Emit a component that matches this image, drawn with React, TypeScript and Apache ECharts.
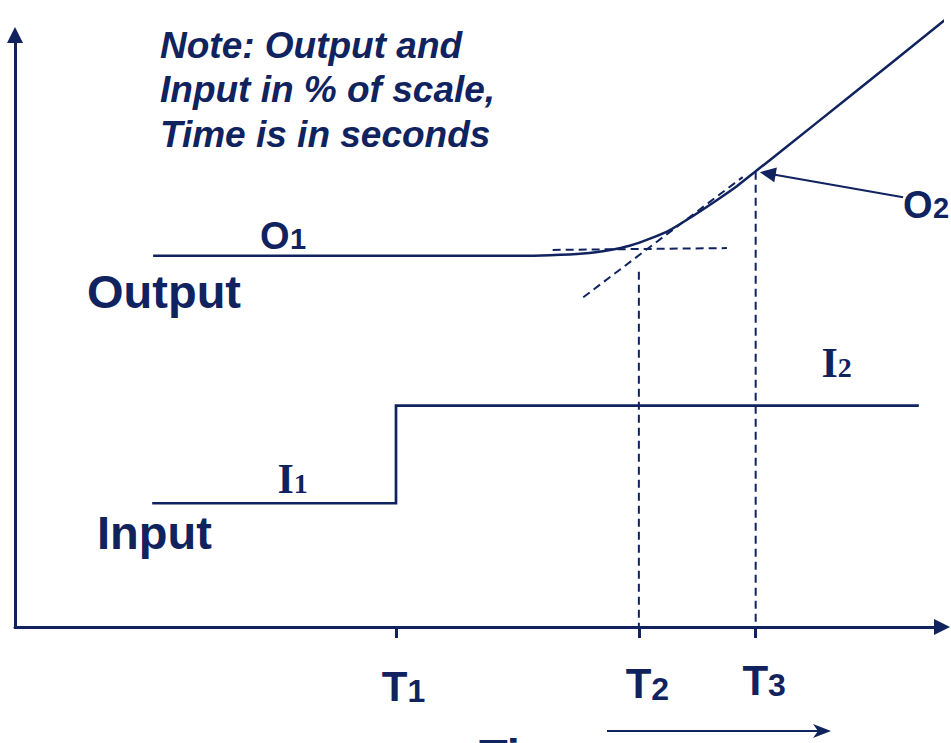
import React, { useEffect, useRef } from 'react';
import * as echarts from 'echarts';

const NAVY = '#10235f';
const SANS = '"Liberation Sans", Arial, sans-serif';
const SERIF = '"Liberation Serif", "Times New Roman", serif';

// ---- data (time axis 0..100, % of scale 0..100) ----
const timeTicks = [41.1, 67.3, 79.9]; // T1, T2, T3
const tickSubs = ['1', '2', '3'];

const inputLevels = [20.9, 37.4]; // I1, I2
const inputSpan = [14.8, 97.5]; // start / end of the input trace

const outputX = [14.9, 54.2, 57.7, 61.3, 64.2, 66.3, 68.5, 70.7, 72.8, 75.7, 77.9, 80.0, 82.5, 90.1, 101.0];
const outputY = [62.7, 62.7, 62.8, 63.1, 63.7, 64.4, 65.6, 67.1, 69.1, 72.1, 74.5, 77.1, 80.2, 89.7, 103.4];

const baselineGuide = [[58.0, 63.7], [76.8, 64.0]];
const tangentGuide = [[61.3, 55.7], [78.5, 76.0]];
const guideTops = [60.0, 76.9]; // vertical guides at T2, T3
const o2Arrow = [[95.8, 72.6], [81.2, 76.6]];

const noteText = 'Note: Output and\nInput in % of scale,\nTime is in seconds';

// ---- helpers ----
const txt = (text: string, x: number, y: number, size: number, family: string) => ({
  type: 'text',
  x,
  y,
  silent: true,
  style: {
    text,
    fontSize: size,
    fontWeight: 'bold',
    fontFamily: family,
    fill: NAVY,
    align: 'left',
    verticalAlign: 'middle',
  },
});

const labelLH = [48, 45.5, 42];
const labelPad = [15, 17, 17];
const rich: Record<string, any> = {};
timeTicks.forEach((_, i) => {
  rich['t' + i] = {
    fontSize: 42,
    fontWeight: 'bold',
    fontFamily: SANS,
    color: NAVY,
    lineHeight: labelLH[i],
    verticalAlign: 'bottom',
    padding: [0, 0, 0, labelPad[i]],
  };
  rich['s' + i] = {
    fontSize: 32,
    fontWeight: 'bold',
    fontFamily: SANS,
    color: NAVY,
    lineHeight: labelLH[i],
    verticalAlign: 'bottom',
  };
});

const dashed = { color: NAVY, width: 2, type: [8, 5] as any };

const guideSeries = (name: string, data: number[][]) => ({
  name,
  type: 'line',
  data,
  showSymbol: false,
  symbol: 'none',
  silent: true,
  lineStyle: dashed,
  clip: false,
  z: 1,
});

export default function App() {
  const ref = useRef<HTMLDivElement>(null);
  useEffect(() => {
    const chart = echarts.init(ref.current!, null, { renderer: 'svg' });
    const option: any = {
      animation: false,
      title: {
        text: noteText,
        left: 160,
        top: 23,
        padding: 0,
        textStyle: {
          color: NAVY,
          fontFamily: SANS,
          fontStyle: 'italic',
          fontWeight: 'bold',
          fontSize: 37,
          lineHeight: 44.5,
        },
      },
      grid: { left: 15, right: 9, top: 35, bottom: 116, containLabel: false },
      xAxis: {
        type: 'value',
        min: 0,
        max: 100,
        splitLine: { show: false },
        axisLine: {
          show: true,
          symbol: ['none', 'triangle'],
          symbolSize: [16, 16],
          lineStyle: { color: NAVY, width: 3 },
        },
        axisTick: {
          show: true,
          customValues: timeTicks,
          length: 11,
          lineStyle: { color: NAVY, width: 3 },
        },
        axisLabel: {
          show: true,
          customValues: timeTicks,
          margin: 32,
          formatter: (v: number) => {
            const i = timeTicks.findIndex((t) => Math.abs(t - v) < 1e-6);
            return `{t${i}|T}{s${i}|${tickSubs[i]}}`;
          },
          rich,
        },
      },
      yAxis: {
        type: 'value',
        min: 0,
        max: 100,
        splitLine: { show: false },
        axisLine: {
          show: true,
          symbol: ['none', 'triangle'],
          symbolSize: [16, 16],
          lineStyle: { color: NAVY, width: 3 },
        },
        axisTick: { show: false },
        axisLabel: { show: false },
      },
      series: [
        {
          name: 'Output',
          type: 'line',
          data: outputX.map((x, i) => [x, outputY[i]]),
          smooth: 0.25,
          showSymbol: false,
          symbol: 'none',
          clip: false,
          lineStyle: { color: NAVY, width: 2.5 },
          z: 3,
          markLine: {
            silent: true,
            symbol: ['none', 'triangle'],
            symbolSize: [15, 16],
            label: { show: false },
            lineStyle: { color: NAVY, width: 2, type: 'solid' },
            data: [[{ coord: o2Arrow[0] }, { coord: o2Arrow[1] }]],
          },
        },
        {
          name: 'Input',
          type: 'line',
          data: [
            [inputSpan[0], inputLevels[0]],
            [timeTicks[0], inputLevels[0]],
            [timeTicks[0], inputLevels[1]],
            [inputSpan[1], inputLevels[1]],
          ],
          showSymbol: false,
          symbol: 'none',
          lineStyle: { color: NAVY, width: 2.7, join: 'miter' },
          z: 3,
        },
        guideSeries('O1 level', baselineGuide),
        guideSeries('Tangent', tangentGuide),
        guideSeries('T2 guide', [[timeTicks[1], guideTops[0]], [timeTicks[1], 0]]),
        guideSeries('T3 guide', [[timeTicks[2], guideTops[1]], [timeTicks[2], 0]]),
      ],
      graphic: [
        txt('Output', 87, 291, 47, SANS),
        txt('Input', 97, 532, 47, SANS),
        txt('Time', 479, 755, 47, SANS),
        txt('O', 260, 235.6, 38, SANS),
        txt('1', 290, 239.2, 29, SANS),
        txt('O', 903, 204.6, 38, SANS),
        txt('2', 933, 207.7, 29, SANS),
        txt('I', 277.5, 478.8, 42, SERIF),
        txt('1', 293.8, 483.5, 28, SERIF),
        txt('I', 821.5, 362.8, 42, SERIF),
        txt('2', 837.8, 367.5, 28, SERIF),
        {
          type: 'line',
          silent: true,
          shape: { x1: 607, y1: 731, x2: 820, y2: 731 },
          style: { stroke: NAVY, lineWidth: 2 },
        },
        {
          type: 'polygon',
          silent: true,
          shape: { points: [[831, 731], [813, 724], [818, 731], [813, 738]] },
          style: { fill: NAVY },
        },
      ],
    };
    chart.setOption(option);
    return () => chart.dispose();
  }, []);
  return (
    <div
      ref={ref}
      style={{ position: 'absolute', left: 0, top: 0, width: 951, height: 743 }}
    />
  );
}
